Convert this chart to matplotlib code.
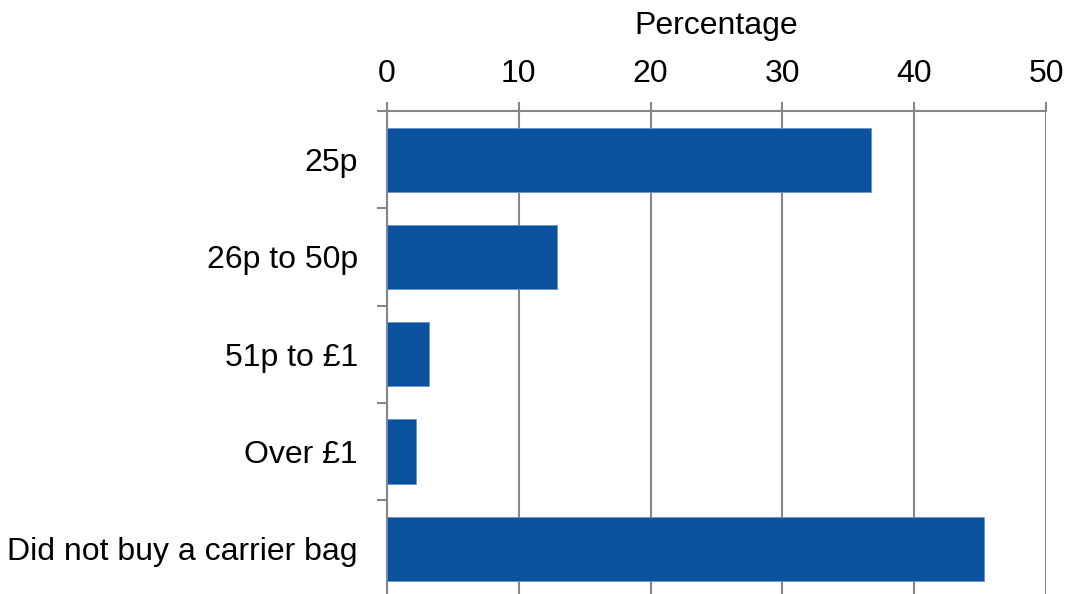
import numpy as np
import matplotlib.pyplot as plt

categories = ['25p', '26p to 50p', '51p to £1', 'Over £1', 'Did not buy a carrier bag']
values = [36.7, 12.9, 3.2, 2.2, 45.3]
xticks = [0, 10, 20, 30, 40, 50]

plt.rcParams['font.family'] = ['Liberation Sans', 'DejaVu Sans']

fig = plt.figure(figsize=(10.68, 5.94), dpi=100)
ax = fig.add_axes([387 / 1068, (594 - 597.5) / 594, (1046 - 387) / 1068, (597.5 - 111) / 594])

grey = '#868686'
y = np.arange(len(categories))
ax.barh(y, values, height=0.66, color='#0A529E', edgecolor='#6d93c4', linewidth=0.6, zorder=3)

ax.set_xlim(0, 50)
ax.set_ylim(len(categories) - 0.5, -0.5)
ax.xaxis.tick_top()
ax.xaxis.set_label_position('top')
ax.set_xticks(xticks)
ax.set_xticklabels([str(t) for t in xticks], fontsize=23)
ax.set_xlabel('Percentage', fontsize=23, labelpad=18)
ax.grid(axis='x', color=grey, linewidth=1.5, zorder=0)

ax.set_yticks(y)
ax.set_yticklabels(categories, fontsize=23)
ax.set_yticks(np.arange(-0.5, len(categories) + 0.5, 1), minor=True)
ax.tick_params(axis='y', which='major', length=0, pad=21)
ax.tick_params(axis='y', which='minor', length=7, width=1.5, color=grey)
ax.tick_params(axis='x', which='major', length=6.5, width=1.5, color=grey, pad=9)

for side in ['right', 'bottom']:
    ax.spines[side].set_visible(False)
for side in ['top', 'left']:
    ax.spines[side].set_color(grey)
    ax.spines[side].set_linewidth(1.5)

fig.savefig('out.png', dpi=100)
